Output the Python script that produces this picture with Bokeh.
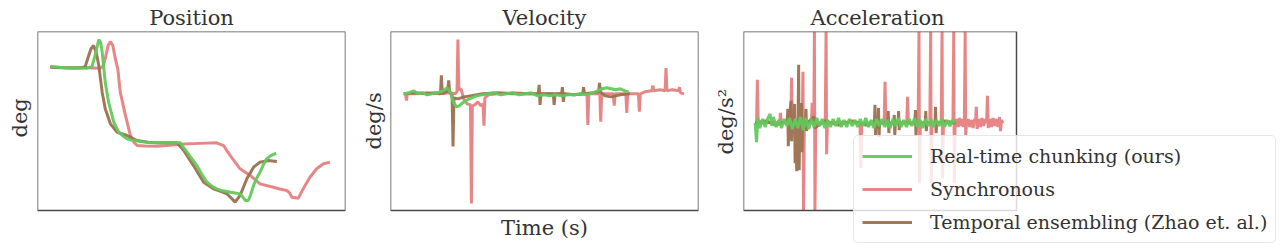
from bokeh.plotting import figure
from bokeh.layouts import row
from bokeh.models import Range1d, Legend, LegendItem, BoxAnnotation, Title, Label
from bokeh.embed import file_html
from bokeh.resources import INLINE

# ---------------- data (time in s) ----------------
series_names = ["Real-time chunking (ours)", "Synchronous", "Temporal ensembling (Zhao et. al.)"]

# Position (deg)
pos_green = [(0.42, 80.4), (0.7, 80.0), (1.0, 79.6), (1.3, 79.8), (1.6, 79.4), (1.78, 80.5), (1.9, 88),
             (2.0, 95.5), (2.06, 94), (2.11, 88.5), (2.16, 80), (2.21, 71.7), (2.32, 60.5), (2.49, 49.3),
             (2.65, 43.7), (2.8, 41.5), (2.92, 40.0), (3.1, 39.2), (3.36, 38.5), (3.6, 38.0), (3.9, 37.8),
             (4.3, 37.9), (4.66, 37.8), (4.75, 35.5), (4.88, 32.6), (5.05, 28.5), (5.2, 25.1), (5.35, 20.5),
             (5.53, 15.8), (5.7, 13.5), (5.85, 12.1), (6.05, 11.0), (6.29, 10.2), (6.45, 9.8), (6.61, 9.3),
             (6.7, 7.5), (6.78, 5.6), (6.88, 5.6), (6.95, 8.5), (7.05, 14), (7.15, 18), (7.26, 21.4),
             (7.37, 25.5), (7.48, 28.9), (7.6, 30.5), (7.79, 32.0)]
pos_red = [(0.42, 80.1), (0.8, 79.9), (1.2, 79.7), (1.6, 79.8), (2.05, 79.5), (2.15, 81), (2.21, 84.8),
           (2.3, 92), (2.38, 94.4), (2.46, 92), (2.54, 84.8), (2.62, 79.1), (2.70, 66.1), (2.87, 53.1),
           (3.03, 41.9), (3.15, 38), (3.25, 36.3), (3.5, 36.0), (3.9, 35.9), (4.3, 36.5), (4.77, 37.2),
           (5.3, 37.5), (5.85, 37.8), (6.07, 36.3), (6.29, 30.7), (6.61, 23.3), (6.94, 19.6), (7.26, 14.9),
           (7.5, 13.8), (7.70, 13.0), (7.9, 12.0), (8.13, 11.2), (8.22, 10), (8.30, 7.4), (8.51, 6.9),
           (8.67, 12.1), (8.89, 18.6), (9.11, 23.3), (9.33, 26.1), (9.54, 27.0)]
pos_brown = [(0.42, 80.0), (0.8, 79.8), (1.2, 79.6), (1.45, 79.7), (1.56, 80.5), (1.67, 86.6), (1.75, 90.5),
             (1.83, 92.2), (1.92, 88), (2.0, 81.0), (2.11, 66.1), (2.21, 56.8), (2.38, 48.4), (2.6, 43.7),
             (2.92, 41.9), (3.25, 39.1), (3.6, 38.2), (3.9, 37.8), (4.2, 37.9), (4.55, 37.8), (4.77, 33.5),
             (5.09, 25.1), (5.42, 15.8), (5.74, 12.1), (6.0, 10.5), (6.18, 9.3), (6.32, 7.0), (6.45, 4.7),
             (6.61, 8.4), (6.83, 17.7), (7.05, 24.2), (7.26, 27.0), (7.53, 27.9), (7.81, 27.4)]

# Velocity (deg/s)
vel_green = [(0.43, 0), (0.6, 1), (0.75, 3), (0.9, 0), (1.05, 1), (1.2, -1), (1.35, 0), (1.5, 1), (1.65, 2),
             (1.75, 4), (1.85, 6), (1.95, 2), (2.05, -8), (2.15, -13), (2.25, -12), (2.35, -9), (2.5, -6),
             (2.65, -4), (2.8, -2), (3.0, -1), (3.2, 0), (3.4, 1), (3.6, -1), (3.8, 0), (4.0, 1), (4.2, -1),
             (4.4, 0), (4.6, 1), (4.8, -2), (5.0, -1), (5.2, -2), (5.4, -1), (5.6, -2), (5.8, -1), (6.0, -1),
             (6.2, 0), (6.4, -1), (6.6, 1), (6.75, 3), (6.9, 5), (7.05, 6), (7.2, 5), (7.35, 4), (7.5, 5),
             (7.65, 3), (7.77, 2)]
vel_red = [(0.43, 0), (0.49, 0), (0.52, -6.7), (0.55, 0), (0.8, 0), (1.2, 1), (1.6, 0), (1.9, 1), (2.1, 0),
           (2.17, 2), (2.20, 54), (2.23, 4), (2.3, 5), (2.4, -6), (2.5, -10), (2.61, -11), (2.64, -109),
           (2.67, -12), (2.75, -11), (2.85, -8), (2.95, -12), (3.02, -10), (3.05, -31.7), (3.08, -4),
           (3.2, -1), (3.5, 0), (4.0, 1), (4.5, 0), (5.0, 0), (5.5, 0), (6.0, -1), (6.41, 0), (6.44, -31),
           (6.47, 0), (6.83, 0), (6.86, -27.7), (6.89, 0), (7.27, 0), (7.30, -11.7), (7.33, 0), (7.68, 0),
           (7.71, -19), (7.74, 0), (8.09, 0), (8.12, -17.7), (8.15, 0), (8.3, 2), (8.53, 3), (8.56, 8.3),
           (8.59, 3), (8.8, 4), (8.96, 3), (8.99, 25.6), (9.02, 3), (9.2, 4), (9.40, 3), (9.43, 6.6),
           (9.46, 1), (9.58, 0)]
vel_brown = [(0.43, 0), (0.8, 1), (1.2, 0), (1.5, 1), (1.63, 0), (1.66, 18.3), (1.69, 0), (1.8, 2), (1.87, 3),
             (1.90, 13.3), (1.93, 2), (2.01, -2), (2.04, -52.4), (2.07, -4), (2.2, -5), (2.4, -3), (2.6, -2),
             (3.0, 0), (3.5, 1), (4.0, 0), (4.5, 0), (4.82, 0), (4.85, 9), (4.88, -11), (4.91, 0), (5.31, 0),
             (5.34, -11), (5.37, 0), (5.58, 0), (5.61, 6.6), (5.64, -8), (5.67, 0), (6.0, -1), (6.27, 0),
             (6.3, 6.6), (6.33, 0), (6.6, 1), (6.79, 2), (6.82, 11), (6.85, 2), (7.0, -2), (7.2, -3),
             (7.5, -1), (7.81, 0)]

# Acceleration (deg/s^2)
acc_green = [(0.43, 0), (0.48, -19), (0.53, 5), (0.6, -5), (0.7, 4), (0.8, -4), (0.9, 5), (0.98, 9), (1.05, -3),
             (1.1, 6), (1.2, -4), (1.3, 3), (1.4, -5), (1.5, 4), (1.6, -3), (1.7, 5), (1.8, -6), (1.9, 4),
             (2.0, -5), (2.1, 6), (2.2, -7), (2.3, 5), (2.4, -6), (2.5, 4), (2.6, -4), (2.7, 5), (2.8, -3),
             (2.9, 4), (3.0, -5), (3.1, 3), (3.2, -4), (3.3, 4), (3.4, -3), (3.5, 5), (3.6, -4), (3.7, 3),
             (3.8, -4), (3.9, 4), (4.0, -3), (4.1, 3), (4.2, -4), (4.3, 4), (4.4, -3), (4.5, 5), (4.6, -4),
             (4.7, 3), (4.8, -5), (4.9, 4), (5.0, -3), (5.1, 4), (5.2, -4), (5.3, 3), (5.4, -5), (5.5, 4),
             (5.6, -3), (5.7, 5), (5.8, -4), (5.9, 3), (6.0, -4), (6.1, 4), (6.2, -3), (6.3, 5), (6.4, -4),
             (6.5, 3), (6.6, -5), (6.7, 4), (6.8, -3), (6.9, 4), (7.0, -4), (7.1, 3), (7.2, -3), (7.3, 4),
             (7.4, -4), (7.5, 3), (7.6, -3), (7.7, 3), (7.78, 0)]
acc_red = [(0.43, 0), (0.48, 0), (0.51, 43), (0.54, 0), (1.0, 1), (1.33, 0), (1.36, 10), (1.39, 0), (1.74, 0),
           (1.77, 45), (1.80, 0), (2.16, 0), (2.19, 51), (2.21, -150), (2.24, 0), (2.50, 0), (2.53, 20),
           (2.56, 0), (2.59, 0), (2.61, 150), (2.63, -150), (2.66, 0), (3.01, 0), (3.04, 150), (3.06, -31),
           (3.09, 0), (3.6, 1), (4.29, 0), (4.32, -45), (4.35, 0), (5.18, 0), (5.21, 41), (5.24, 0),
           (6.01, 0), (6.04, 26), (6.07, 0), (6.43, 0), (6.46, 150), (6.48, -60), (6.51, 0), (6.86, 0),
           (6.89, 150), (6.91, -60), (6.94, 0), (7.28, 0), (7.31, 150), (7.33, -55), (7.36, 0), (7.71, 0),
           (7.74, 150), (7.76, -60), (7.79, 0), (7.85, 4), (7.9, -4), (7.95, 5), (8.0, -3), (8.05, 4),
           (8.10, -4), (8.13, 0), (8.16, 150), (8.18, -13), (8.21, 0), (8.27, 4), (8.33, -4), (8.39, 3),
           (8.45, -5), (8.51, 4), (8.54, 0), (8.57, 16), (8.60, -6), (8.66, 4), (8.72, -4), (8.78, 5),
           (8.84, -3), (8.90, 4), (8.95, 0), (8.98, 27), (9.01, -5), (9.07, 4), (9.13, -4), (9.19, 5),
           (9.25, -3), (9.31, 4), (9.37, -4), (9.40, 0), (9.43, 6), (9.46, -8), (9.50, 3), (9.55, 0)]
acc_brown = [(0.43, 0), (0.8, 2), (1.2, -2), (1.5, 1), (1.61, 0), (1.63, 14), (1.65, -23), (1.67, 0),
             (1.75, 22), (1.77, -18), (1.79, 0), (1.86, 0), (1.88, 19), (1.90, -40), (1.92, 0), (1.96, -48),
             (1.98, 0), (2.01, 0), (2.03, 58), (2.05, -47), (2.07, 0), (2.13, 20), (2.15, -29), (2.17, 0),
             (2.28, 0), (2.30, 14), (2.32, -8), (2.34, 0), (2.6, 6), (2.62, -5), (3.0, 2), (3.5, -2), (4.0, 2),
             (4.5, -2), (4.82, 0), (4.84, 18), (4.86, -12), (4.88, 0), (4.95, 0), (4.97, 15), (4.99, -14),
             (5.01, 0), (5.31, 0), (5.33, 12), (5.35, -10), (5.37, 0), (5.53, 0), (5.55, 8), (5.57, -12),
             (5.59, 0), (5.69, 0), (5.71, 12), (5.73, -7), (5.75, 0), (6.31, 0), (6.33, 13), (6.35, -13),
             (6.37, 0), (6.69, 0), (6.71, 12), (6.73, -8), (6.75, 0), (7.05, 0), (7.07, 16), (7.09, -10),
             (7.11, 0), (7.4, 2), (7.81, 0)]

time_range = (0, 10.05)
pos_range = (0, 100)
vel_range = (-116, 62)
acc_range = (-87, 91)

# ---------------- style / layout ----------------
FONT = "DejaVu Serif"
TXT = "#333333"
FRAME = "#4a4a4a"
GREEN = "#62c95b"
RED = "#e57f7f"
BROWN = "#9b7150"
FS = "21px"
BOX_H = 179     # height of each axes box (px)
AREA_H = 212    # height of each plotting area (px); the area reaches below the box so the legend fits


def unzip(pairs, lo, hi):
    xs = [a for a, _ in pairs]
    ys = [min(max(b, lo), hi) for _, b in pairs]  # values beyond the axes are shown clipped at the limits
    return xs, ys


def make_panel(width, left, right, box_w, area_w, title, yr, ylabel, label_offset, label_standoff,
               title_align="center", title_offset=0):
    x_hi = time_range[0] + (time_range[1] - time_range[0]) * area_w / box_w
    y_lo = yr[1] - (yr[1] - yr[0]) * AREA_H / BOX_H
    p = figure(width=width, height=251, x_range=Range1d(time_range[0], x_hi), y_range=Range1d(y_lo, yr[1]),
               output_backend="svg", toolbar_location=None,
               min_border_left=left, min_border_right=right, min_border_top=31, min_border_bottom=8)
    p.xgrid.visible = False
    p.ygrid.visible = False
    p.xaxis.visible = False
    p.yaxis.visible = False
    p.outline_line_color = None
    p.border_fill_color = "white"
    p.background_fill_color = "white"
    p.title.text = title
    p.title.align = title_align
    p.title.offset = title_offset
    p.title.text_font = FONT
    p.title.text_font_size = FS
    p.title.text_font_style = "normal"
    p.title.text_color = TXT
    p.title.standoff = 3
    p.add_layout(Title(text=ylabel, align="left", offset=label_offset, text_font=FONT, text_font_size=FS,
                       text_font_style="normal", text_color=TXT, standoff=label_standoff), "left")
    p.add_layout(BoxAnnotation(left=time_range[0], right=time_range[1], bottom=yr[0], top=yr[1],
                               fill_color=None, fill_alpha=0, line_color=FRAME, line_width=1.5,
                               line_alpha=1.0))
    return p


def draw(p, yr, red, brown, green):
    rr = p.line(*unzip(red, *yr), line_color=RED, line_width=3, line_alpha=0.95)
    rb = p.line(*unzip(brown, *yr), line_color=BROWN, line_width=3, line_alpha=0.95)
    rg = p.line(*unzip(green, *yr), line_color=GREEN, line_width=3, line_alpha=0.95)
    return rg, rr, rb


p1 = make_panel(355, 37, 10, 308, 308, "Position", pos_range, "deg", 106, 11)
draw(p1, pos_range, pos_red, pos_brown, pos_green)

p2 = make_panel(350, 35, 7, 308, 308, "Velocity", vel_range, "deg/s", 94, 9)
draw(p2, vel_range, vel_red, vel_brown, vel_green)
p2.add_layout(Label(x=(time_range[0] + time_range[1]) / 2, y=vel_range[0], text="Time (s)",
                    text_align="center", text_baseline="top", y_offset=-5, text_font=FONT,
                    text_font_size=FS, text_color=TXT))

p3 = make_panel(575, 38, 4, 273, 533, "Acceleration", acc_range, "deg/s²", 89, 11,
                title_align="left", title_offset=67)
rg, rr, rb = draw(p3, acc_range, acc_red, acc_brown, acc_green)

legend = Legend(items=[LegendItem(label=series_names[0], renderers=[rg]),
                       LegendItem(label=series_names[1], renderers=[rr]),
                       LegendItem(label=series_names[2], renderers=[rb])],
                location=(110, 0))
legend.label_text_font = FONT
legend.label_text_font_size = "19px"
legend.label_text_color = TXT
legend.glyph_width = 50
legend.glyph_height = 24
legend.label_height = 24
legend.label_standoff = 18
legend.spacing = 9
legend.padding = 8
legend.margin = 0
legend.border_line_color = "#d0d0d0"
legend.border_line_width = 1
legend.background_fill_color = "white"
legend.background_fill_alpha = 0.8
if "border_radius" in Legend.properties():
    legend.border_radius = 5
p3.add_layout(legend)

layout = row(p1, p2, p3)
open("out.html", "w").write(file_html(layout, INLINE))
